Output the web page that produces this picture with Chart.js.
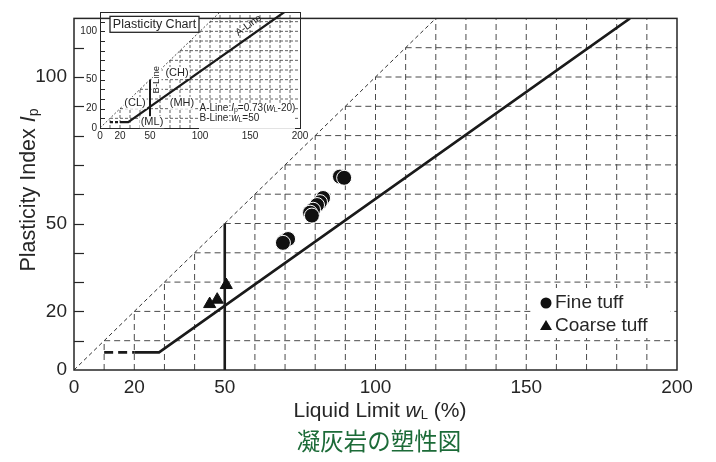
<!DOCTYPE html>
<html>
<head>
<meta charset="utf-8">
<script src="https://cdn.jsdelivr.net/npm/chart.js@4.4.0/dist/chart.umd.min.js"></script>
<style>
html, body { margin: 0; padding: 0; background: #fff; }
#wrap { position: relative; width: 716px; height: 462px; }
#main { position: absolute; left: 0; top: 0; }
#inset { position: absolute; left: 80px; top: 2px; }
</style>
</head>
<body>
<div id="wrap">
  <canvas id="main" width="716" height="462"></canvas>
  <canvas id="inset" width="232" height="146"></canvas>
</div>
<script>
// measured samples (liquid limit wL %, plasticity index Ip)
const fineLL = [88.2, 89.6, 82.6, 81.6, 80.6, 79.3, 78.3, 78.9, 70.0, 71.0, 69.3];
const fineIP = [66.0, 65.6, 58.7, 57.3, 56.3, 54.7, 53.7, 52.7, 44.1, 44.7, 43.4];
const coarseLL = [50.5, 47.5, 45.0];
const coarseIP = [29.0, 24.0, 22.5];

// reference lines
const aLineLL = [20, 28.2, 184.4];
const aLineIP = [6, 6, 120];
const aDashLL = [10, 20];
const aDashIP = [6, 6];
const bLineLL = [50, 50];
const bLineIP = [0, 50];
const diagLL = [0, 120];
const diagIP = [0, 120];

// grid + ticks
const gridLL = [10, 20, 30, 40, 50, 60, 70, 80, 90, 100, 110, 120, 130, 140, 150, 160, 170, 180, 190];
const gridIP = [10, 20, 30, 40, 50, 60, 70, 80, 90, 100, 110];
const xTickLabels = [0, 20, 50, 100, 150, 200];
const yTickLabels = [0, 20, 50, 100];
const yTickMarks = [10, 20, 30, 40, 50, 60, 70, 80, 90, 100, 110];

const FONT = '"Liberation Sans", Arial, sans-serif';
const INK = '#262626';

function pts(xs, ys) {
    return xs.map((v, i) => ({x: v, y: ys[i]}));
}

// grid only shown below the Ip = wL line
function gridPoints() {
    const out = [];
    gridLL.forEach(v => {
        out.push({x: v, y: 0}, {x: v, y: Math.min(v, 120)}, {x: null, y: null});
    });
    gridIP.forEach(v => {
        out.push({x: v, y: v}, {x: 200, y: v}, {x: null, y: null});
    });
    return out;
}

function lineSet(data, width, dash, order) {
    return {
        type: 'line', data: data, borderColor: '#1a1a1a', borderWidth: width,
        borderDash: dash, pointRadius: 0, fill: false, tension: 0, order: order, spanGaps: false
    };
}

function drawRich(ctx, parts, x, y, angle) {
    ctx.save();
    ctx.translate(x, y);
    ctx.rotate(angle || 0);
    let total = 0;
    parts.forEach(p => { ctx.font = p.font; total += ctx.measureText(p.text).width; });
    let cx = -total / 2;
    ctx.textBaseline = 'middle';
    ctx.textAlign = 'left';
    parts.forEach(p => {
        ctx.font = p.font;
        ctx.fillStyle = p.color || INK;
        ctx.fillText(p.text, cx, p.dy || 0);
        cx += ctx.measureText(p.text).width;
    });
    ctx.restore();
}

function drawRichLeft(ctx, parts, x, y) {
    let cx = x;
    ctx.textBaseline = 'middle';
    ctx.textAlign = 'left';
    parts.forEach(p => {
        ctx.font = p.font;
        ctx.fillStyle = p.color || INK;
        ctx.fillText(p.text, cx, y + (p.dy || 0));
        cx += ctx.measureText(p.text).width;
    });
}

const mainDeco = {
    id: 'mainDeco',
    afterDraw(chart) {
        const {ctx, chartArea: a} = chart;
        const y = chart.scales.y;
        ctx.save();
        ctx.strokeStyle = INK;
        ctx.lineWidth = 1.5;
        ctx.strokeRect(a.left, a.top, a.right - a.left, a.bottom - a.top);
        ctx.lineWidth = 1.2;
        yTickMarks.forEach(v => {
            const py = Math.round(y.getPixelForValue(v)) + 0.5;
            ctx.beginPath();
            ctx.moveTo(a.left, py);
            ctx.lineTo(a.left + 10, py);
            ctx.stroke();
        });

        // legend box
        ctx.fillStyle = '#fff';
        ctx.fillRect(534, 288, 136, 50);
        ctx.fillStyle = '#111';
        ctx.beginPath();
        ctx.arc(546, 303, 5.5, 0, Math.PI * 2);
        ctx.fill();
        ctx.beginPath();
        ctx.moveTo(546, 320);
        ctx.lineTo(552, 330);
        ctx.lineTo(540, 330);
        ctx.closePath();
        ctx.fill();
        ctx.font = '19px ' + FONT;
        ctx.fillStyle = INK;
        ctx.textBaseline = 'middle';
        ctx.textAlign = 'left';
        ctx.fillText('Fine tuff', 555, 303);
        ctx.fillText('Coarse tuff', 555, 326);

        // axis titles
        drawRich(ctx, [
            {text: 'Plasticity Index ', font: '21.5px ' + FONT},
            {text: 'I', font: 'italic 21.5px ' + FONT},
            {text: 'p', font: '14px ' + FONT, dy: 5}
        ], 29, 190, -Math.PI / 2);
        drawRich(ctx, [
            {text: 'Liquid Limit ', font: '21px ' + FONT},
            {text: 'w', font: 'italic 21px ' + FONT},
            {text: 'L', font: '13px ' + FONT, dy: 4},
            {text: ' (%)', font: '21px ' + FONT}
        ], 380, 411, 0);

        // caption
        ctx.font = '23.5px "Noto Sans CJK JP", sans-serif';
        ctx.fillStyle = '#1c6b38';
        ctx.textAlign = 'center';
        ctx.textBaseline = 'middle';
        ctx.fillText('凝灰岩の塑性図', 379, 441);
        ctx.restore();
    }
};

new Chart(document.getElementById('main'), {
    type: 'scatter',
    data: {
        datasets: [
            {
                label: 'Fine tuff', data: pts(fineLL, fineIP), pointStyle: 'circle',
                pointRadius: 7.5, backgroundColor: '#111', borderColor: '#fff', borderWidth: 1, order: 0
            },
            {
                label: 'Coarse tuff', data: pts(coarseLL, coarseIP), pointStyle: 'triangle',
                pointRadius: 7, backgroundColor: '#111', borderColor: '#111', borderWidth: 1, order: 0
            },
            lineSet(pts(aLineLL, aLineIP), 2.6, [], 1),
            lineSet(pts(aDashLL, aDashIP), 2.6, [9, 5], 1),
            lineSet(pts(bLineLL, bLineIP), 2.6, [], 1),
            Object.assign(lineSet(pts(diagLL, diagIP), 1, [4, 3], 2), {borderColor: '#333'}),
            Object.assign(lineSet(gridPoints(), 1, [6, 4], 3), {borderColor: '#4a4a4a'})
        ]
    },
    options: {
        responsive: false,
        animation: false,
        devicePixelRatio: 1,
        layout: {padding: {top: 8, right: 39, left: 0, bottom: 0}},
        plugins: {legend: {display: false}, tooltip: {enabled: false}},
        scales: {
            x: {
                type: 'linear', min: 0, max: 200,
                afterFit: s => { s.height = 92; },
                grid: {display: false, drawTicks: false},
                border: {display: false},
                ticks: {
                    stepSize: 10, autoSkip: false, maxRotation: 0, padding: 6,
                    font: {size: 19, family: FONT}, color: INK,
                    callback: v => xTickLabels.includes(v) ? String(v) : ''
                }
            },
            y: {
                type: 'linear', min: 0, max: 120,
                afterFit: s => { s.width = 74; },
                grid: {display: false, drawTicks: false},
                border: {display: false},
                ticks: {
                    stepSize: 10, autoSkip: false, padding: 7,
                    font: {size: 19, family: FONT}, color: INK,
                    callback: v => yTickLabels.includes(v) ? String(v) : ''
                }
            }
        }
    },
    plugins: [mainDeco]
});

// small reference chart in the top-left corner
const insetDeco = {
    id: 'insetDeco',
    afterDraw(chart) {
        const {ctx, chartArea: a} = chart;
        const x = chart.scales.x, y = chart.scales.y;
        const px = v => x.getPixelForValue(v);
        const py = v => y.getPixelForValue(v);
        ctx.save();
        ctx.strokeStyle = INK;
        ctx.lineWidth = 1;
        ctx.strokeRect(a.left + 0.5, a.top + 0.5, a.right - a.left, a.bottom - a.top);
        yTickMarks.forEach(v => {
            const yy = Math.round(py(v)) + 0.5;
            ctx.beginPath();
            ctx.moveTo(a.left, yy);
            ctx.lineTo(a.left + 5, yy);
            ctx.stroke();
        });

        // title box
        ctx.fillStyle = '#fff';
        ctx.fillRect(px(10), py(115.5), px(99) - px(10), py(99) - py(115.5));
        ctx.lineWidth = 1.3;
        ctx.strokeRect(px(10), py(115.5), px(99) - px(10), py(99) - py(115.5));
        ctx.fillStyle = INK;
        ctx.font = '12.5px ' + FONT;
        ctx.textAlign = 'center';
        ctx.textBaseline = 'middle';
        ctx.fillText('Plasticity Chart', px(54.5), py(107.3));

        ctx.font = '11px ' + FONT;
        [['(CH)', 77, 57], ['(CL)', 35, 26], ['(MH)', 82, 26], ['(ML)', 52, 6]].forEach(t => {
            const w = ctx.measureText(t[0]).width;
            ctx.fillStyle = '#fff';
            ctx.fillRect(px(t[1]) - w / 2 - 1, py(t[2]) - 6, w + 2, 12);
            ctx.fillStyle = INK;
            ctx.fillText(t[0], px(t[1]), py(t[2]));
        });

        ctx.font = '9.5px ' + FONT;
        ctx.save();
        ctx.translate(px(56.5), py(50));
        ctx.rotate(-Math.PI / 2);
        ctx.fillStyle = '#fff';
        ctx.fillRect(-15, -5, 30, 10);
        ctx.fillStyle = INK;
        ctx.fillText('B-Line', 0, 0);
        ctx.restore();

        const ang = Math.atan2(py(0) - py(73), px(100) - px(0));
        ctx.save();
        ctx.translate(px(152), py(101));
        ctx.rotate(-ang);
        ctx.fillStyle = INK;
        ctx.font = '10px ' + FONT;
        ctx.fillText('A-Line', 0, -6);
        ctx.restore();

        ctx.fillStyle = '#fff';
        ctx.fillRect(px(99), py(26), 96, 26);
        drawRichLeft(ctx, [
            {text: 'A-Line:', font: '10px ' + FONT},
            {text: 'I', font: 'italic 10px ' + FONT},
            {text: 'p', font: '7px ' + FONT, dy: 2},
            {text: '=0.73(', font: '10px ' + FONT},
            {text: 'w', font: 'italic 10px ' + FONT},
            {text: 'L', font: '7px ' + FONT, dy: 2},
            {text: '-20)', font: '10px ' + FONT}
        ], px(99.5), py(20.5));
        drawRichLeft(ctx, [
            {text: 'B-Line:', font: '10px ' + FONT},
            {text: 'w', font: 'italic 10px ' + FONT},
            {text: 'L', font: '7px ' + FONT, dy: 2},
            {text: '=50', font: '10px ' + FONT}
        ], px(99.5), py(10));
        ctx.restore();
    }
};

new Chart(document.getElementById('inset'), {
    type: 'scatter',
    data: {
        datasets: [
            lineSet(pts(aLineLL, aLineIP), 2.2, [], 1),
            lineSet(pts(aDashLL, aDashIP), 2.2, [3, 2], 1),
            lineSet(pts(bLineLL, bLineIP), 2, [], 1),
            lineSet(pts(diagLL, diagIP), 0.8, [2, 2], 2),
            Object.assign(lineSet(gridPoints(), 0.8, [3, 2], 3), {borderColor: '#3a3a3a'})
        ]
    },
    options: {
        responsive: false,
        animation: false,
        devicePixelRatio: 1,
        layout: {padding: {top: 10, right: 12, left: 0, bottom: 0}},
        plugins: {legend: {display: false}, tooltip: {enabled: false}},
        scales: {
            x: {
                type: 'linear', min: 0, max: 200,
                afterFit: s => { s.height = 20; },
                grid: {display: false, drawTicks: false},
                border: {display: false},
                ticks: {
                    stepSize: 10, autoSkip: false, maxRotation: 0, padding: 2,
                    font: {size: 10, family: FONT}, color: INK,
                    callback: v => xTickLabels.includes(v) ? String(v) : ''
                }
            },
            y: {
                type: 'linear', min: 0, max: 120,
                afterFit: s => { s.width = 20; },
                grid: {display: false, drawTicks: false},
                border: {display: false},
                ticks: {
                    stepSize: 10, autoSkip: false, padding: 3,
                    font: {size: 10, family: FONT}, color: INK,
                    callback: v => yTickLabels.includes(v) ? String(v) : ''
                }
            }
        }
    },
    plugins: [insetDeco]
});
</script>
</body>
</html>
